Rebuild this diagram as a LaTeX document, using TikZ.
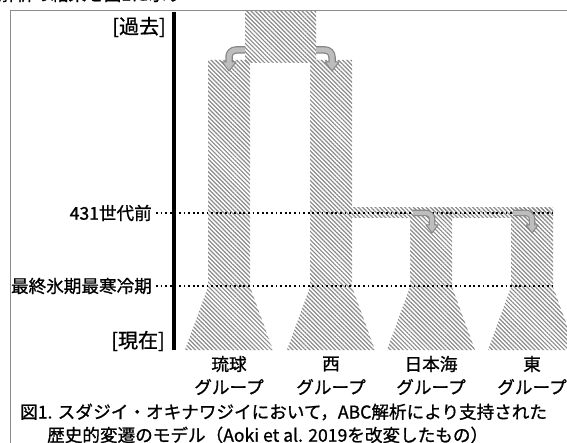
\documentclass[tikz,border=0pt]{standalone}
\usepackage{fontspec}
\setmainfont{Noto Sans CJK JP}[AutoFakeBold=1.0]
\usetikzlibrary{patterns.meta}
\definecolor{hatchc}{HTML}{8A8A8A}
\definecolor{arrfill}{HTML}{BDBDBD}
\definecolor{arrline}{HTML}{858585}
\definecolor{framec}{HTML}{8C8C8C}
\begin{document}
\begin{tikzpicture}[x=1pt,y=-1pt,
  hatched/.style={pattern={Lines[angle=-45,distance=3pt,line width=1.2pt]},pattern color=hatchc},
  lbl/.style={font=\fontsize{17.6}{21}\selectfont\bfseries, inner sep=0pt},
  blbl/.style={font=\fontsize{20}{24}\selectfont\bfseries, inner sep=0pt},
  dotline/.style={line width=1.8pt, dash pattern=on 1.8pt off 2.8pt},
  arrout/.style={draw=arrline, line width=7.5pt},
  arrin/.style={draw=arrfill, line width=5pt},
  arroutS/.style={draw=arrline, line width=6.5pt},
  arrinS/.style={draw=arrfill, line width=4.3pt},
  arrhead/.style={fill=arrfill, draw=arrline, line width=1pt, line join=round},
  framel/.style={draw=framec, line width=1pt}
]
\useasboundingbox (0,0) rectangle (567,443);
\clip (0,0) rectangle (567,443);

% clipped heading line at the very top
\node[lbl, anchor=west] (head) at (-2,-6) {解析の結果を図1に示す};

% frame
\coordinate (fbl) at (10,445);
\coordinate (ftl) at (10,11);
\coordinate (ftr) at (568,11);
\draw[framel] (fbl) -- (ftl) -- (ftr);

% hatched lineages
\fill[hatched] (245,12) rectangle (316,63);
\fill[hatched] (208,60) -- (250,60) -- (250,287) -- (273,350) -- (185,350) -- (208,287) -- cycle;
\fill[hatched] (310,60) -- (352,60) -- (352,287) -- (375,350) -- (287,350) -- (310,287) -- cycle;
\fill[hatched] (352,208) rectangle (553,218);
\fill[hatched] (410,208) -- (452,208) -- (452,287) -- (475,350) -- (387,350) -- (410,287) -- cycle;
\fill[hatched] (511,208) -- (553,208) -- (553,287) -- (576,350) -- (488,350) -- (511,287) -- cycle;

% time labels and dotted lines
\node[blbl, anchor=east] (past) at (166,27) {[過去]};
\node[blbl, anchor=east] (now) at (165,341) {[現在]};
\node[lbl, anchor=east] (g431) at (152,213) {431世代前};
\node[lbl, anchor=east] (lgm) at (152,286) {最終氷期最寒冷期};
\coordinate (e431) at (553,213);
\coordinate (elgm) at (553,286);
\draw[dotline] ([xshift=4pt]g431.east) -- (e431);
\draw[dotline] ([xshift=4pt]lgm.east) -- (elgm);

% bent arrows (top)
\draw[arrout] (245,50) -- (236,50) .. controls (232.1,50) and (229,53.1) .. (229,57) -- (229,63);
\filldraw[arrhead] (222,62) -- (236,62) -- (229,71) -- cycle;
\draw[arrin] (245,50) -- (236,50) .. controls (232.1,50) and (229,53.1) .. (229,57) -- (229,63.5);

\draw[arrout] (316,50) -- (325,50) .. controls (328.9,50) and (332,53.1) .. (332,57) -- (332,63);
\filldraw[arrhead] (325,62) -- (339,62) -- (332,71) -- cycle;
\draw[arrin] (316,50) -- (325,50) .. controls (328.9,50) and (332,53.1) .. (332,57) -- (332,63.5);

% bent arrows (431 generations ago)
\draw[arroutS] (413,213) -- (426,213) .. controls (429.3,213) and (432,215.7) .. (432,219) -- (432,226);
\filldraw[arrhead] (426,225) -- (438,225) -- (432,233) -- cycle;
\draw[arrinS] (413,213) -- (426,213) .. controls (429.3,213) and (432,215.7) .. (432,219) -- (432,226.5);

\draw[arroutS] (513,213) -- (526,213) .. controls (529.3,213) and (532,215.7) .. (532,219) -- (532,226);
\filldraw[arrhead] (526,225) -- (538,225) -- (532,233) -- cycle;
\draw[arrinS] (513,213) -- (526,213) .. controls (529.3,213) and (532,215.7) .. (532,219) -- (532,226.5);

% time axis bar
\coordinate (bartop) at (174,12);
\coordinate (barbot) at (174,350);
\draw[line width=4pt] (bartop) -- (barbot);

% group labels
\node[lbl] (ryu1) at (229,364) {琉球};
\node[lbl] (ryu2) at (229,387) {グループ};
\node[lbl] (nis1) at (331,364) {西};
\node[lbl] (nis2) at (331,387) {グループ};
\node[lbl] (nih1) at (431,364) {日本海};
\node[lbl] (nih2) at (431,387) {グループ};
\node[lbl] (hig1) at (532,364) {東};
\node[lbl] (hig2) at (532,387) {グループ};

% caption
\node[lbl, anchor=west] (cap1) at (20,412) {図1. スダジイ・オキナワジイにおいて，ABC解析により支持された};
\node[lbl, anchor=west] (cap2) at (47,435) {歴史的変遷のモデル（Aoki et al. 2019を改変したもの）};
\end{tikzpicture}
\end{document}
